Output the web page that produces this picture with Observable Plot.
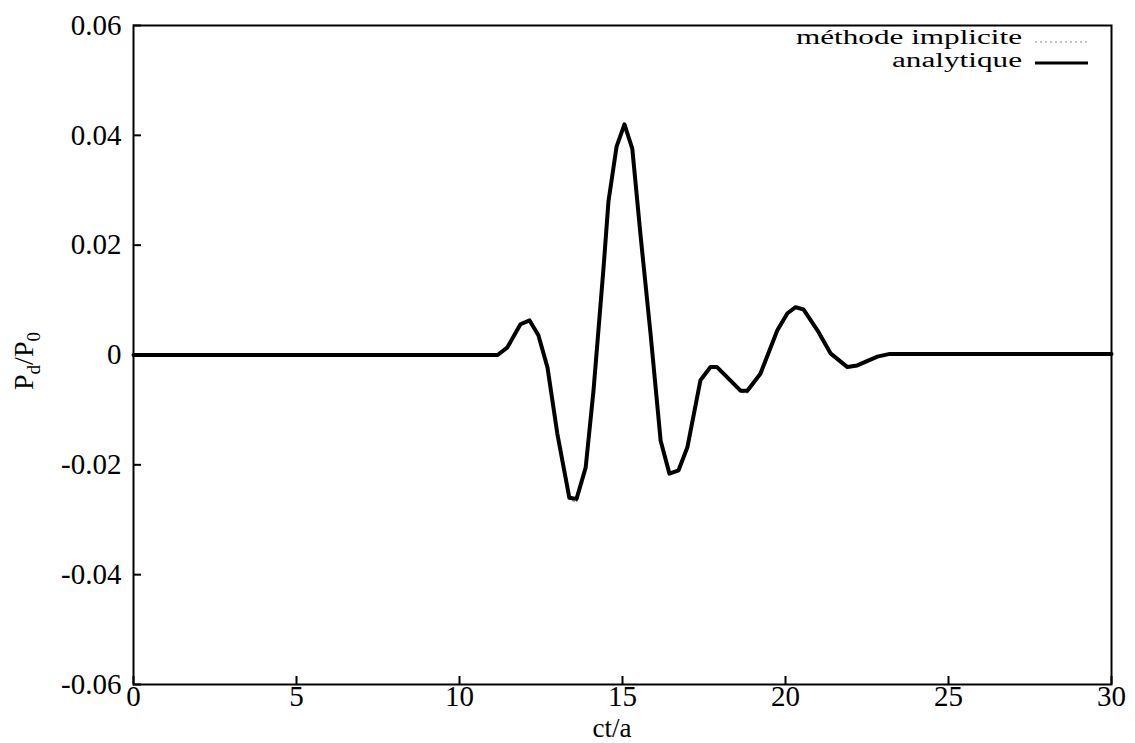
<!DOCTYPE html>
<html>
<head>
<meta charset="utf-8">
<script src="https://cdn.jsdelivr.net/npm/d3@7"></script>
<script src="https://cdn.jsdelivr.net/npm/@observablehq/plot@0.6"></script>
<style>
  html, body { margin: 0; padding: 0; background: #fff; }
  #chart { position: relative; width: 1135px; height: 743px; }
  #chart svg, #chart svg text { font-family: "Liberation Serif", "Times New Roman", Times, serif !important; }
</style>
</head>
<body>
<div id="chart"></div>
<script>
// ---- data ----
const t = [0, 11.17, 11.47, 11.87, 12.15, 12.42, 12.7, 13.0, 13.37, 13.59, 13.87, 14.11, 14.42, 14.57, 14.82, 15.06, 15.3, 15.55, 15.86, 16.17, 16.44, 16.72, 16.99, 17.39, 17.7, 17.9, 18.2, 18.62, 18.83, 19.23, 19.75, 20.06, 20.31, 20.55, 20.98, 21.38, 21.9, 22.2, 22.82, 23.2, 30];
const analytique = [0, 0, 0.0014, 0.0056, 0.0063, 0.0036, -0.0023, -0.0143, -0.026, -0.0262, -0.0205, -0.0065, 0.016, 0.028, 0.038, 0.042, 0.0376, 0.022, 0.0039, -0.0156, -0.0216, -0.021, -0.0168, -0.0046, -0.0022, -0.0022, -0.004, -0.0065, -0.0065, -0.0034, 0.0045, 0.0076, 0.0087, 0.0083, 0.0045, 0.0003, -0.0022, -0.0019, -0.0003, 0.0002, 0.0002];
const implicite = [0, 0, 0.0013, 0.0055, 0.0062, 0.0036, -0.0024, -0.0145, -0.0263, -0.0268, -0.0207, -0.0066, 0.0158, 0.0279, 0.0379, 0.0418, 0.0375, 0.0219, 0.0038, -0.0157, -0.0218, -0.0212, -0.0169, -0.0047, -0.0023, -0.0023, -0.0042, -0.0068, -0.0069, -0.0036, 0.0044, 0.0075, 0.0086, 0.0082, 0.0044, 0.0002, -0.0023, -0.002, -0.0004, 0.0001, 0.0002];
const xTicks = [0, 5, 10, 15, 20, 25, 30];
const yTicks = [-0.06, -0.04, -0.02, 0, 0.02, 0.04, 0.06];
const seriesNames = ["méthode implicite", "analytique"];
const xLabel = "ct/a";

const rowsA = t.map((x, i) => ({x, y: analytique[i]}));
const rowsI = t.map((x, i) => ({x, y: implicite[i]}));

const W = 1135, H = 743;
const mL = 133, mR = 24, mT = 25, mB = 59;
const font = "Liberation Serif, Times New Roman, Times, serif";
const fmt = d => d === 0 ? "0" : d.toFixed(2);

const plot = Plot.plot({
  width: W, height: H,
  marginLeft: mL, marginRight: mR, marginTop: mT, marginBottom: mB,
  style: {fontFamily: font, fontSize: "29px", color: "black", background: "white"},
  x: {domain: [0, 30], ticks: xTicks, label: null},
  y: {domain: [-0.06, 0.06], ticks: yTicks, label: null},
  marks: [
    Plot.axisX(xTicks, {tickSize: 0, tickPadding: 1, fontSize: 29, tickFormat: d => String(d), fill: "black"}),
    Plot.axisY(yTicks, {tickSize: 0, tickPadding: 12, fontSize: 29, tickFormat: fmt, fill: "black"}),
    Plot.tickX(xTicks, {x: d => d, stroke: "black", strokeWidth: 2, insetTop: H - mT - mB - 8}),
    Plot.tickY(yTicks, {y: d => d, stroke: "black", strokeWidth: 2, insetRight: W - mL - mR - 8}),
    Plot.line(rowsI, {x: "x", y: "y", stroke: "#888", strokeWidth: 1.2, strokeDasharray: "2,3"}),
    Plot.line(rowsA, {x: "x", y: "y", stroke: "black", strokeWidth: 4, strokeLinejoin: "round"}),
    Plot.frame({stroke: "black", strokeWidth: 2})
  ]
});
document.getElementById("chart").appendChild(plot);

// axis titles and legend
const svg = d3.select(plot);
svg.append("text")
  .attr("x", (mL + W - mR) / 2 - 10).attr("y", 737)
  .attr("text-anchor", "middle").attr("font-family", font).attr("font-size", 27)
  .attr("fill", "black").text(xLabel);

const yl = svg.append("text")
  .attr("transform", "translate(33,361) rotate(-90)")
  .attr("text-anchor", "middle").attr("font-family", font).attr("font-size", 28)
  .attr("fill", "black");
yl.append("tspan").text("P");
yl.append("tspan").attr("font-size", 19).attr("dy", 7).text("d");
yl.append("tspan").attr("dy", -7).text("/P");
yl.append("tspan").attr("font-size", 19).attr("dy", 7).text("0");

const leg = svg.append("g").attr("font-family", font).attr("font-size", 20).attr("fill", "black");
leg.append("text").attr("x", 1022).attr("y", 44).attr("text-anchor", "end")
  .attr("textLength", 226).attr("lengthAdjust", "spacingAndGlyphs").text(seriesNames[0]);
leg.append("text").attr("x", 1022).attr("y", 67).attr("text-anchor", "end")
  .attr("textLength", 130).attr("lengthAdjust", "spacingAndGlyphs").text(seriesNames[1]);
leg.append("line").attr("x1", 1035).attr("x2", 1090).attr("y1", 42).attr("y2", 42)
  .attr("stroke", "#888").attr("stroke-width", 1.2).attr("stroke-dasharray", "2,3");
leg.append("line").attr("x1", 1035).attr("x2", 1088).attr("y1", 63).attr("y2", 63)
  .attr("stroke", "black").attr("stroke-width", 3);
</script>
</body>
</html>
